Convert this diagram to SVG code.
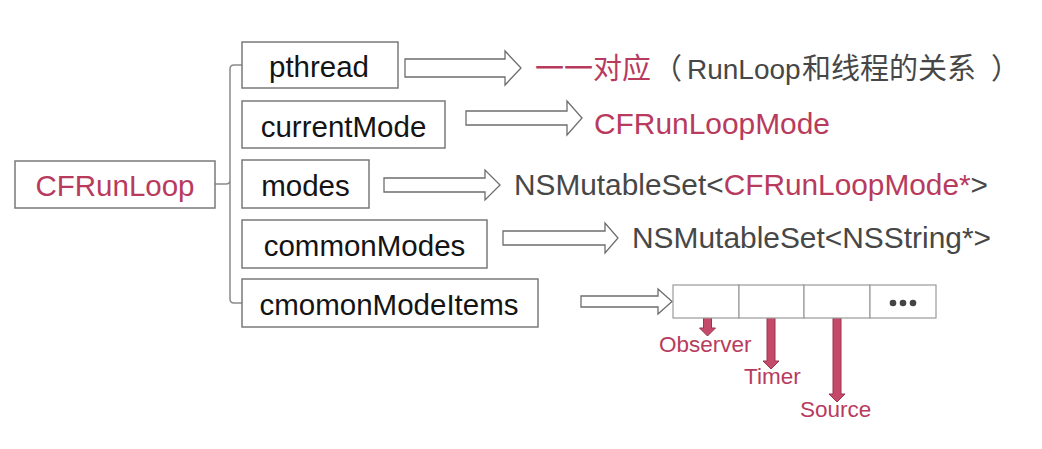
<svg xmlns="http://www.w3.org/2000/svg" width="1042" height="449" viewBox="0 0 1042 449">
<style>
  .box { fill: #ffffff; stroke: #7a7a7a; stroke-width: 1.5; }
  .t { font-family: "Liberation Sans", Arial, Helvetica, sans-serif; font-size: 29.5px; fill: #141414; }
  .red { fill: #b83b5e; }
  .gray { fill: #474747; }
  .cjk { font-family: "Noto Sans CJK SC", "Liberation Sans", sans-serif; font-size: 29px; }
  .hollow { fill: #ffffff; stroke: #6e6e6e; stroke-width: 1.3; stroke-linejoin: miter; }
  .redarrow { fill: #c54a6a; stroke: #9a3550; stroke-width: 1; }
  .lbl { font-family: "Liberation Sans", Arial, sans-serif; font-size: 22.5px; fill: #b83b5e; }
  .bracket { fill: none; stroke: #8a8a8a; stroke-width: 1.5; }
  .cell { fill: #ffffff; stroke: #9a9a9a; stroke-width: 1.2; }
</style>
<rect width="1042" height="449" fill="#ffffff"/>

<g id="connectors">
  <path class="bracket" d="M215,184 H226 Q230,184 230,180 M242,65 H234 Q230,65 230,69 V299 Q230,303 234,303 H242"/>
  <polygon class="hollow" points="405,59 505,59 505,51 521,68 505,85 505,77 405,77"/>
  <polygon class="hollow" points="466,111 567,111 567,101 582,118 567,135 567,125 466,125"/>
  <polygon class="hollow" points="384,178 485,178 485,170 500,185 485,200 485,192 384,192"/>
  <polygon class="hollow" points="503,231 605,231 605,223 618,238 605,253 605,245 503,245"/>
  <polygon class="hollow" points="581,296 658,296 658,289 672,301.5 658,314 658,307 581,307"/>
  <polygon class="redarrow" points="703.5,302 711.5,302 711.5,328 715.5,328 707.5,336 699.5,328 703.5,328"/>
  <polygon class="redarrow" points="767,302 775,302 775,361 779,361 771,369 763,361 767,361"/>
  <polygon class="redarrow" points="833,302 841,302 841,394 845,394 837,402 829,394 833,394"/>
</g>

<g id="node-cfrunloop">
  <rect class="box" x="15" y="161" width="200" height="47"/>
  <text class="t red" x="115" y="196" text-anchor="middle">CFRunLoop</text>
</g>
<g id="node-pthread">
  <rect class="box" x="242" y="42" width="156" height="46"/>
  <text class="t" x="319" y="77" text-anchor="middle">pthread</text>
</g>
<g id="node-currentmode">
  <rect class="box" x="242" y="101" width="203" height="47"/>
  <text class="t" x="343.5" y="137" text-anchor="middle">currentMode</text>
</g>
<g id="node-modes">
  <rect class="box" x="242" y="160" width="127" height="48"/>
  <text class="t" x="305.5" y="196" text-anchor="middle">modes</text>
</g>
<g id="node-commonmodes">
  <rect class="box" x="242" y="220" width="245" height="48"/>
  <text class="t" x="364.5" y="256" text-anchor="middle">commonModes</text>
</g>
<g id="node-cmomonmodeitems">
  <rect class="box" x="242" y="279" width="296" height="48"/>
  <text class="t" x="389" y="315" text-anchor="middle">cmomonModeItems</text>
</g>

<g id="label-pthread-result">
  <text class="cjk gray" y="79"><tspan class="red" x="535">一一对应</tspan><tspan x="653">（</tspan><tspan x="687" style="font-family:'Liberation Sans',Arial,sans-serif;font-size:28px">RunLoop</tspan><tspan x="802">和线程的关系</tspan><tspan x="991">）</tspan></text>
</g>
<g id="label-currentmode-result">
  <text class="t red" x="594" y="134" textLength="236" lengthAdjust="spacingAndGlyphs">CFRunLoopMode</text>
</g>
<g id="label-modes-result">
  <text class="t gray" x="514" y="195" textLength="474" lengthAdjust="spacingAndGlyphs">NSMutableSet&lt;<tspan class="red">CFRunLoopMode*</tspan>&gt;</text>
</g>
<g id="label-commonmodes-result">
  <text class="t gray" x="632" y="248" textLength="359" lengthAdjust="spacingAndGlyphs">NSMutableSet&lt;NSString*&gt;</text>
</g>

<g id="node-items-array">
  <rect class="cell" x="673" y="285" width="66" height="33"/>
  <rect class="cell" x="739" y="285" width="65" height="33"/>
  <rect class="cell" x="804" y="285" width="66" height="33"/>
  <rect class="cell" x="870" y="285" width="66" height="33"/>
  <circle cx="893" cy="303" r="3.3" fill="#444"/>
  <circle cx="903" cy="303" r="3.3" fill="#444"/>
  <circle cx="913" cy="303" r="3.3" fill="#444"/>
</g>
<g id="label-observer"><text class="lbl" x="659" y="352">Observer</text></g>
<g id="label-timer"><text class="lbl" x="744" y="384">Timer</text></g>
<g id="label-source"><text class="lbl" x="800" y="417">Source</text></g>
</svg>
